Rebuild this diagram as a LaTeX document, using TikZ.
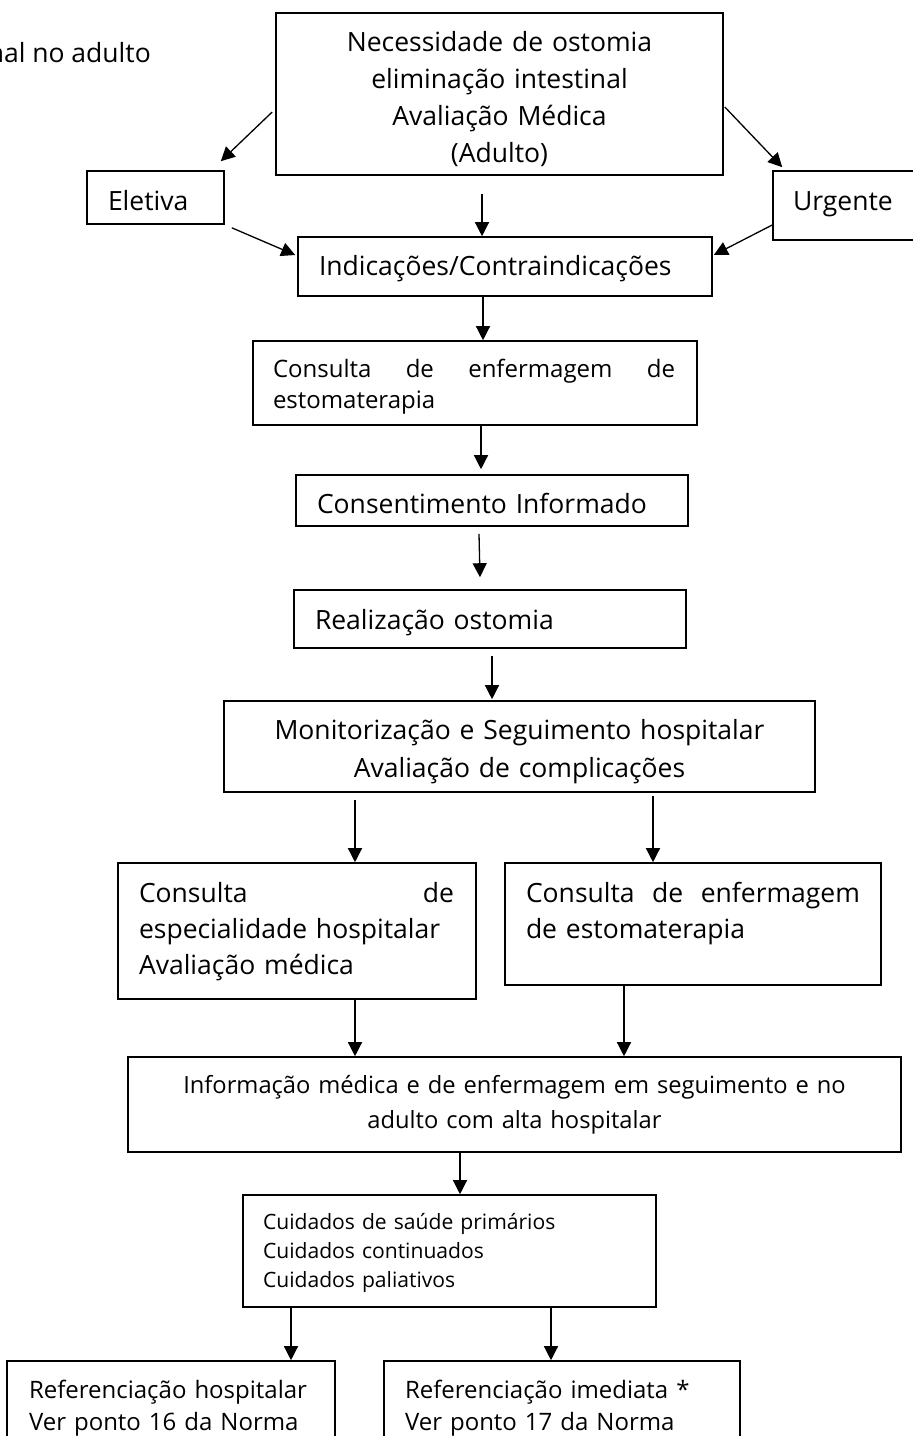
\documentclass[tikz,border=0pt]{standalone}
\usepackage{fontspec}
\setmainfont{Open Sans}
\usetikzlibrary{arrows.meta,calc}
\newcommand{\up}[1]{\rule{0pt}{#1pt}}
\newcommand{\dn}[1]{\rule[-#1pt]{0pt}{0pt}}
\tikzset{
  box/.style={draw, line width=1.6pt, rectangle, inner ysep=0pt, align=left},
  cbox/.style={draw, line width=1.6pt, rectangle, inner ysep=0pt, align=center},
  arr/.style={line width=1.3pt, -{Triangle[length=14pt,width=14pt]}},
  big/.style={font=\fontsize{26.5}{36}\selectfont},
}
\begin{document}
\begin{tikzpicture}[x=1pt,y=-1pt]
\useasboundingbox (0,0) rectangle (913,1436);
\clip (0,0) rectangle (913,1436);

\node[anchor=base east, inner sep=0pt, font=\fontsize{26.5}{30}\selectfont] (title) at (151,62) {nal no adulto};

\node[cbox, font=\fontsize{26.5}{36.7}\selectfont, minimum width=447pt, minimum height=162pt, text width=427pt, inner xsep=10pt] (top) at (499.5,94)
  {\up{34}Necessidade de ostomia\\eliminação intestinal\\Avaliação Médica\\(Adulto)\dn{8}};

\node[box, big, minimum width=137pt, minimum height=53pt, text width=95pt, inner xsep=21pt] (eletiva) at (155.5,197.5) {\up{33}Eletiva\dn{8}};
\node[box, big, minimum width=152pt, minimum height=69pt, text width=112pt, inner xsep=20pt] (urgente) at (849,205.5) {\up{24}Urgente\dn{15}};

\node[box, big, minimum width=414pt, minimum height=59pt, text width=372pt, inner xsep=21pt] (indic) at (505,266.5) {\up{25}Indicações/Contraindicações\dn{8}};

\node[box, font=\fontsize{24}{31}\selectfont, minimum width=444pt, minimum height=84pt, text width=404pt, inner xsep=20pt] (cenf) at (475,383)
  {\up{27}\hbox to 402pt{Consulta\hfill de\hfill enfermagem\hfill de}\\estomaterapia\dn{8}};

\node[box, big, minimum width=392pt, minimum height=51pt, text width=350pt, inner xsep=21pt] (consent) at (492,500.5) {\up{33}Consentimento Informado\dn{8}};

\node[box, big, minimum width=392pt, minimum height=58pt, text width=350pt, inner xsep=21pt] (real) at (490,619) {\up{28}Realização ostomia\dn{8}};

\node[cbox, font=\fontsize{26.5}{38}\selectfont, minimum width=591pt, minimum height=91pt, text width=571pt, inner xsep=10pt] (monit) at (519.5,746.5)
  {\up{31}Monitorização e Seguimento hospitalar\\Avaliação de complicações\dn{8}};

\node[box, big, minimum width=358pt, minimum height=136pt, text width=316pt, inner xsep=21pt] (espec) at (297,931)
  {\up{24}\hbox to 315pt{Consulta\hfill de}\\\mbox{especialidade hospitalar}\\Avaliação médica\dn{10}};

\node[box, big, minimum width=376pt, minimum height=122pt, text width=334pt, inner xsep=21pt] (enf) at (693,924)
  {\up{24}\hbox to 334pt{Consulta\hfill de\hfill enfermagem}\\de estomaterapia\dn{32}};

\node[cbox, font=\fontsize{23.7}{35}\selectfont, minimum width=773pt, minimum height=95pt, text width=753pt, inner xsep=10pt] (info) at (514.5,1104.5)
  {\up{24}Informação médica e de enfermagem em seguimento e no\\adulto com alta hospitalar\dn{12}};

\node[box, font=\fontsize{21.1}{29}\selectfont, minimum width=413pt, minimum height=112pt, text width=373pt, inner xsep=20pt] (cuid) at (449.5,1251)
  {\up{24}Cuidados de saúde primários\\Cuidados continuados\\Cuidados paliativos\dn{10}};

\node[box, font=\fontsize{24}{32}\selectfont, minimum width=328pt, minimum height=93pt, text width=284pt, inner xsep=22pt] (refh) at (171,1407.5)
  {\up{24}\mbox{Referenciação hospitalar}\\\mbox{Ver ponto 16 da Norma}\dn{11}};

\node[box, font=\fontsize{24}{32}\selectfont, minimum width=356pt, minimum height=93pt, text width=314pt, inner xsep=21pt] (refi) at (562,1407.5)
  {\up{24}\mbox{Referenciação imediata *}\\\mbox{Ver ponto 17 da Norma}\dn{11}};

% connectors
\draw[arr] ([shift={(-3,18)}]top.west) -- ([shift={(-4,-9)}]eletiva.north east);
\draw[arr] ([shift={(1,13)}]top.east) -- ([shift={(10,-3)}]urgente.north west);
\draw[arr] ([shift={(-17.5,18)}]top.south) -- ([shift={(-23,0)}]indic.north);
\draw[arr] ([shift={(7,3)}]eletiva.south east) -- ([shift={(-2,-11.5)}]indic.west);
\draw[arr] ([shift={(0,19.5)}]urgente.west) -- ([shift={(1,-11.5)}]indic.east);
\draw[arr] ([shift={(-22,0)}]indic.south) -- ([shift={(8,0)}]cenf.north);
\draw[arr] ([shift={(6,0)}]cenf.south) -- ([shift={(-11,-5)}]consent.north);
\draw[arr] ([shift={(-13,7)}]consent.south) -- ([shift={(-10,-12)}]real.north);
\draw[arr] ([shift={(2,7)}]real.south) -- ([shift={(-27.5,-1)}]monit.north);
\draw[arr] ([shift={(-164.5,7)}]monit.south) -- ([shift={(58,0)}]espec.north);
\draw[arr] ([shift={(133.5,3)}]monit.south) -- ([shift={(-40,0)}]enf.north);
\draw[arr] ([shift={(58,0)}]espec.south) -- ([shift={(-159.5,0)}]info.north);
\draw[arr] ([shift={(-69,0)}]enf.south) -- ([shift={(109.5,0)}]info.north);
\draw[arr] ([shift={(-54.5,0)}]info.south) -- ([shift={(10.5,0)}]cuid.north);
\draw[arr] ([shift={(-158.5,0)}]cuid.south) -- ([shift={(120,0)}]refh.north);
\draw[arr] ([shift={(101.5,0)}]cuid.south) -- ([shift={(-11,0)}]refi.north);
\end{tikzpicture}
\end{document}
